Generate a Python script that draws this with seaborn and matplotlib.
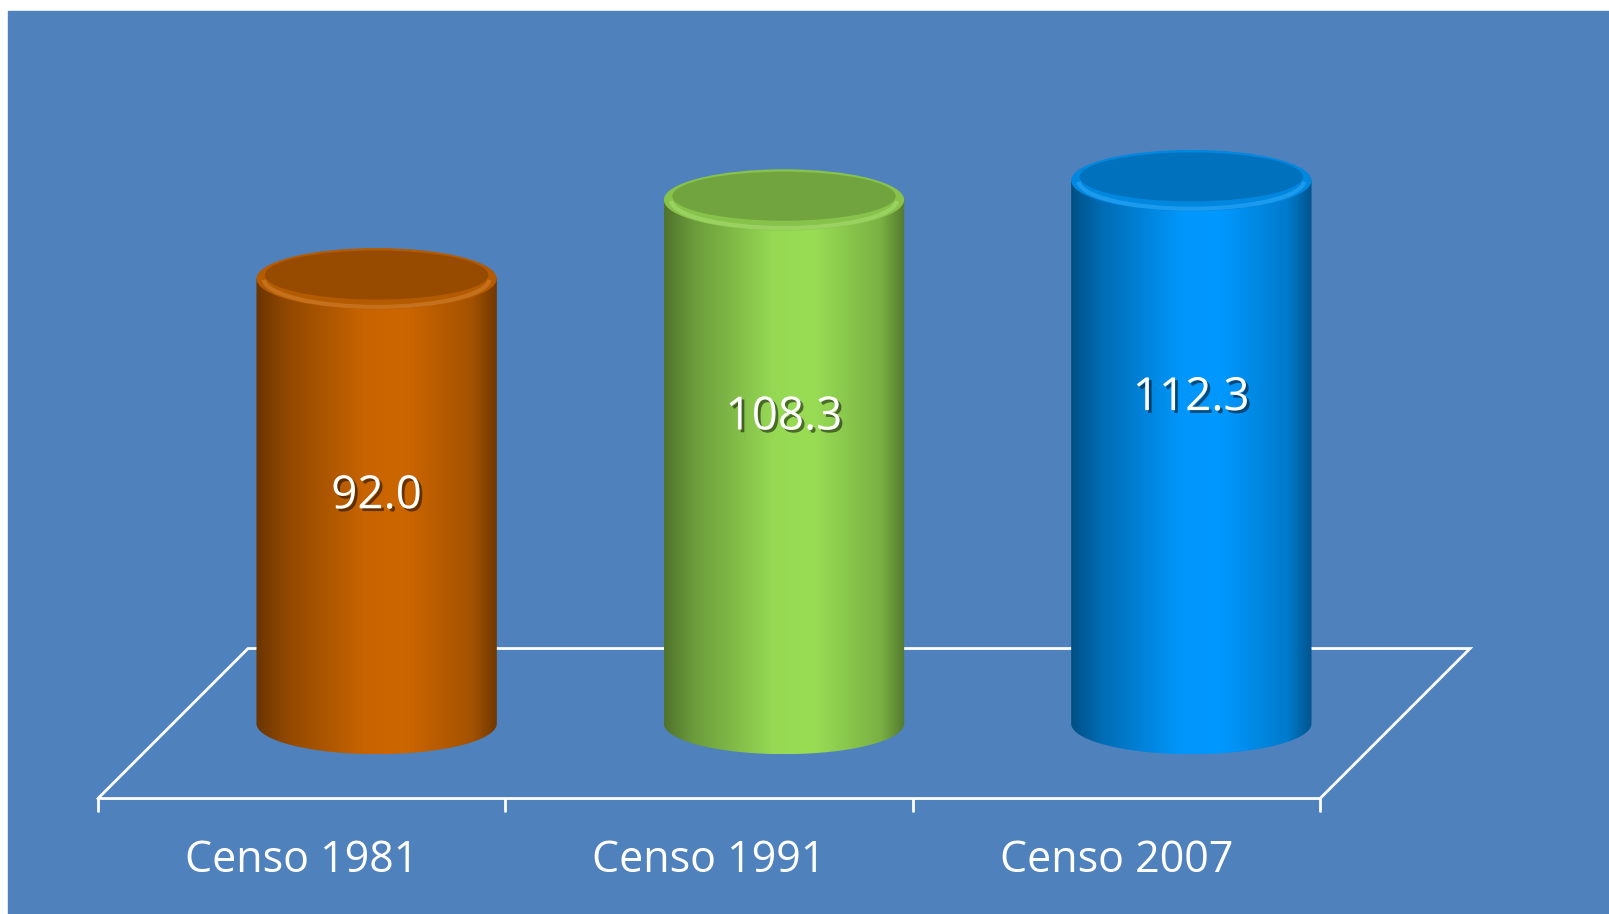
import numpy as np
import pandas as pd
import matplotlib
matplotlib.use("Agg")
import matplotlib.pyplot as plt
import matplotlib.patheffects as pe
from matplotlib.colors import LinearSegmentedColormap, to_rgb
from matplotlib.patches import Ellipse, Rectangle, Arc
from matplotlib.path import Path
import seaborn as sns

# data
categories = ["Censo 1981", "Censo 1991", "Censo 2007"]
values = [92.0, 108.3, 112.3]
value_labels = ["92.0", "108.3", "112.3"]
colors = ["#CC6600", "#99DD55", "#0099FF"]

BG = "#4F81BD"
DEPTH = 75          # px, fake 3d depth of the floor
LABEL_DROP = 45     # value label sits this far below the bar top (data units)

sns.set_style("white")
plt.rcParams["font.family"] = ["Open Sans", "DejaVu Sans"]

fig = plt.figure(figsize=(16.09, 9.14), dpi=100)
fig.patch.set_facecolor("white")
fig.patches.append(Rectangle((8 / 1609, 0), 1, 1 - 11 / 914, transform=fig.transFigure,
                             color=BG, zorder=-10))

ax = fig.add_axes([0.1075, 0.0497, 0.7595, 0.8464])
df = pd.DataFrame({"censo": categories, "valor": values})
sns.barplot(data=df, x="censo", y="valor", hue="censo", palette=colors,
            legend=False, width=0.59, ax=ax)
n = len(categories)
ax.set_xlim(-0.5, n - 0.5)
ax.set_ylim(-30, 130)
ax.axis("off")

# pixel scale of data units
x_px = ax.transData.transform((1, 0))[0] - ax.transData.transform((0, 0))[0]
y_px = ax.transData.transform((0, 1))[1] - ax.transData.transform((0, 0))[1]


def shade(c, f):
    return tuple(np.clip(np.array(to_rgb(c)) * f, 0, 1))


def lighten(c, f):
    c = np.array(to_rgb(c))
    return tuple(c + (1 - c) * f)


# floor (pseudo 3d)
dx = DEPTH / x_px
dy = DEPTH / y_px
left, right = -0.5, n - 0.5
fx = [left - dx, right - dx, right + dx, left + dx, left - dx]
fy = [-dy, -dy, dy, dy, -dy]
ax.plot(fx, fy, color="white", lw=2, zorder=1, solid_joinstyle="miter", clip_on=False)
for b in np.arange(n + 1) - 0.5:
    ax.plot([b - dx, b - dx], [-dy, -dy - 12 / y_px], color="white", lw=2, zorder=1,
            clip_on=False)
for i, cat in enumerate(categories):
    ax.text(i - dx, -dy - 62 / y_px, cat, ha="center", va="center",
            fontsize=31, color="white")

# turn bars into cylinders
bars = sorted(ax.patches, key=lambda p: p.get_x())
for bar, c, lab in zip(bars, colors, value_labels):
    x0 = bar.get_x()
    w = bar.get_width()
    h = bar.get_height()
    x1 = x0 + w
    cx = x0 + w / 2
    bar.set_visible(False)
    ry = 0.255 * (w * x_px / 2) / y_px

    cmap = LinearSegmentedColormap.from_list(
        "cyl", [(0, shade(c, .52)), (0.12, shade(c, .7)), (0.45, shade(c, .98)),
                (0.62, shade(c, 1.0)), (0.9, shade(c, .8)), (1, shade(c, .55))])

    t = np.linspace(np.pi, 2 * np.pi, 60)
    verts = [(x0, h), (x0, 0)] + list(zip(cx + w / 2 * np.cos(t), ry * np.sin(t))) + [(x1, h), (x0, h)]
    clip = Path(verts, closed=True)
    im = ax.imshow(np.linspace(0, 1, 256).reshape(1, -1), extent=[x0, x1, -ry, h],
                   origin="lower", aspect="auto", cmap=cmap, interpolation="bicubic", zorder=2)
    im.set_clip_path(clip, ax.transData)

    # top cap
    ax.add_patch(Ellipse((cx, h), w, 2 * ry, facecolor=shade(c, 0.88), edgecolor="none", zorder=3))
    ax.add_patch(Ellipse((cx, h + 0.12 * ry), w * 0.93, 2 * ry * 0.8,
                         facecolor=shade(c, 0.74), edgecolor="none", zorder=3))
    ax.add_patch(Arc((cx, h), w * 0.94, 2 * ry * 0.92, theta1=220, theta2=320,
                     color=lighten(c, 0.25), lw=3, alpha=0.45, zorder=4))

    ax.text(cx, h - LABEL_DROP, lab, ha="center", va="center", fontsize=33,
            color="white", zorder=5,
            path_effects=[pe.withSimplePatchShadow(offset=(2, -2), shadow_rgbFace="black", alpha=0.5)])

ax.set_xlim(-0.5, n - 0.5)
ax.set_ylim(-30, 130)

fig.savefig("out.png", dpi=100, facecolor=fig.get_facecolor())
